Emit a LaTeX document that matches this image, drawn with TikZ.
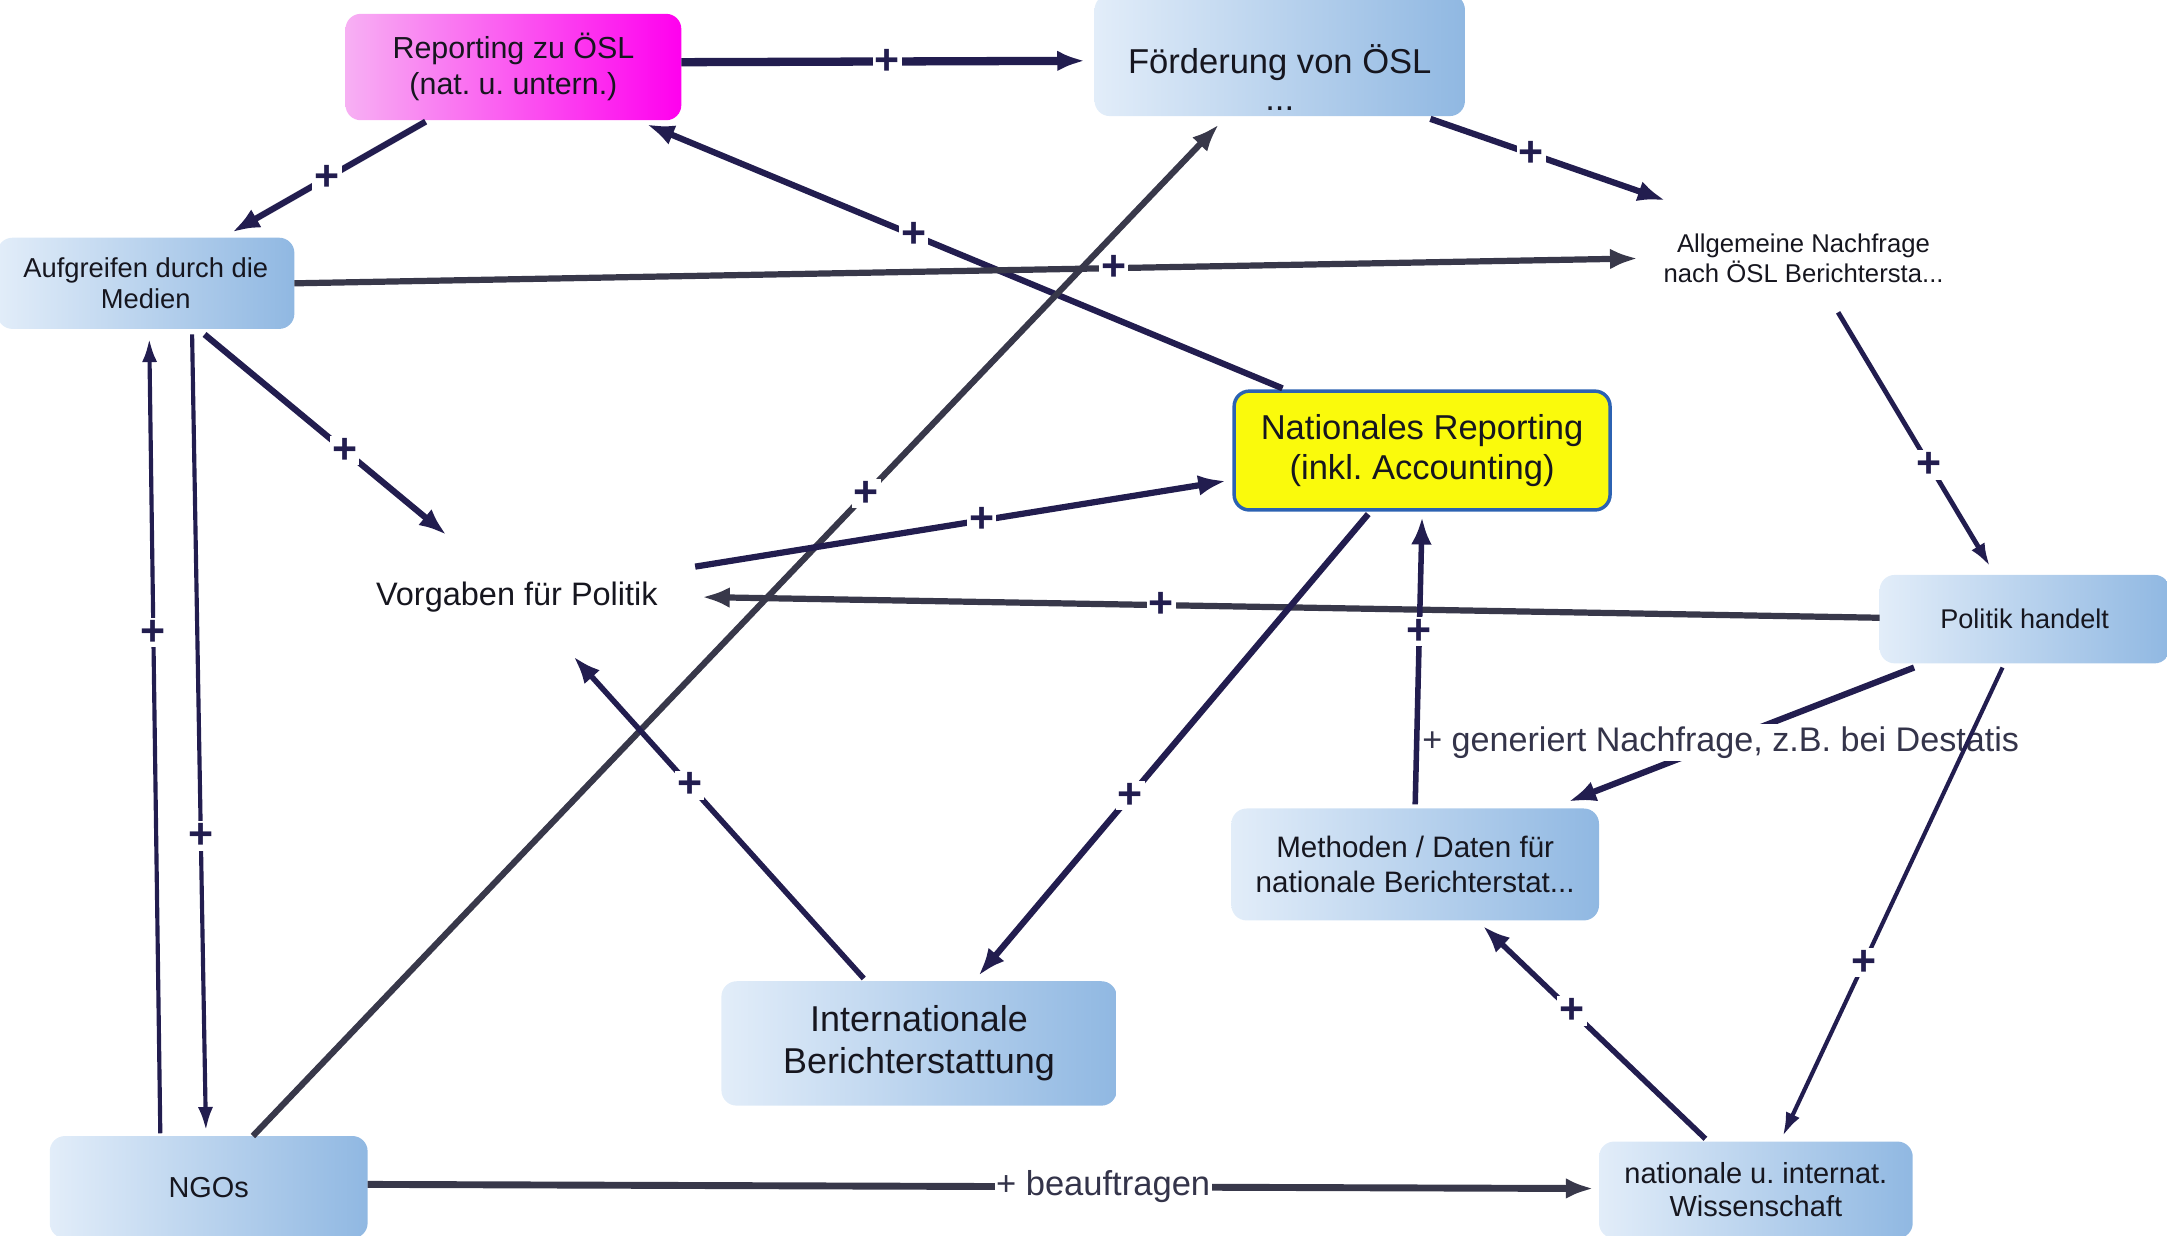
\documentclass[tikz,border=0pt]{standalone}
\usepackage{fontspec}
\setmainfont{Liberation Sans}
\usetikzlibrary{arrows.meta,calc}

\definecolor{navy}{HTML}{221D4F}
\definecolor{slate}{HTML}{38384A}
\definecolor{txt}{HTML}{16161F}
\definecolor{labeltxt}{HTML}{34344A}
\definecolor{bluelight}{HTML}{E2EDF9}
\definecolor{bluemid}{HTML}{BAD3EE}
\definecolor{bluedark}{HTML}{90B8E2}
\definecolor{pinklight}{HTML}{F7B0F3}
\definecolor{pinkmid}{HTML}{FF28F2}
\definecolor{pinkdark}{HTML}{FF00EE}
\definecolor{yellowfill}{HTML}{FAFA0C}
\definecolor{yellowborder}{HTML}{2C62B2}

\newcommand\setfs[2]{\fontsize{#1}{#2}\selectfont}
\frenchspacing

\tikzset{
  box/.style={rounded corners=11pt, align=center, text=txt, inner sep=0pt},
  bluebox/.style={box, left color=bluelight, middle color=bluemid, right color=bluedark},
  pinkbox/.style={box, left color=pinklight, middle color=pinkmid, right color=pinkdark},
  yellowbox/.style={box, fill=yellowfill, draw=yellowborder, line width=2.5pt},
  plaintext/.style={align=center, text=txt, inner sep=1pt},
  edge/.style={draw=navy, line width=4.5pt, -{Latex[length=20pt,width=15pt]}},
  thickedge/.style={edge, line width=6pt},
  thinedge/.style={draw=navy, line width=3pt, -{Latex[length=17pt,width=11pt]}},
  greyedge/.style={edge, draw=slate},
  plus/.style={fill=white, inner sep=1.5pt, text=navy, font=\setfs{31}{31}\bfseries},
  edgelabel/.style={fill=white, inner sep=2pt, text=labeltxt, font=\setfs{24.7}{28}}
}

\begin{document}
\begin{tikzpicture}[x=1pt,y=-1pt]
\useasboundingbox (0,0) rectangle (1568,894);

% boxes and free-standing texts
\node[pinkbox, minimum width=243pt, minimum height=77pt, font=\setfs{22}{26}]
  (rep) at (371.5,48.5) {Reporting zu ÖSL\\(nat. u. untern.)};
\node[bluebox, minimum width=268pt, minimum height=88pt] (foe) at (926,40) {};
\node[plaintext, font=\setfs{25}{27}] (foetext) at (926,56) {Förderung von ÖSL\\...};
\node[bluebox, minimum width=215pt, minimum height=66pt, font=\setfs{19.8}{23}]
  (med) at (105.5,205) {Aufgreifen durch die\\Medien};
\node[plaintext, font=\setfs{18.6}{22}] (allg) at (1305,187)
  {Allgemeine Nachfrage\\nach ÖSL Berichtersta...};
\node[yellowbox, minimum width=272pt, minimum height=86pt, font=\setfs{25}{29}]
  (nat) at (1029,326) {Nationales Reporting\\(inkl. Accounting)};
\node[plaintext, font=\setfs{23.5}{28}] (vor) at (374,432) {Vorgaben für Politik};
\node[bluebox, minimum width=210pt, minimum height=64pt, font=\setfs{19.6}{23}]
  (pol) at (1465,448) {Politik handelt};
\node[bluebox, minimum width=266pt, minimum height=81pt, font=\setfs{21.4}{25}]
  (met) at (1024,625.5) {Methoden / Daten für\\nationale Berichterstat...};
\node[bluebox, minimum width=286pt, minimum height=90pt, font=\setfs{26}{30}]
  (int) at (665,755) {Internationale\\Berichterstattung};
\node[bluebox, minimum width=230pt, minimum height=74pt, font=\setfs{20.9}{24}]
  (ngo) at (151,859) {NGOs};
\node[bluebox, minimum width=227pt, minimum height=70pt, font=\setfs{21}{24}]
  (wis) at (1270.5,861) {nationale u. internat.\\Wissenschaft};

% labelled connector first, so that the other lines cross over its label
\draw[edge] ($(pol)+(-80,35)$) -- node[edgelabel, pos=.56] (lgen) {+ generiert Nachfrage, z.B. bei Destatis} ($(met)+(111,-45.5)$);

% connectors
\draw[thickedge] ($(rep)+(121.5,-3.5)$) -- node[plus, pos=.51] (p1) {+} ($(foe)+(-141,4)$);
\draw[edge] ($(rep)+(-63.5,39.5)$) -- node[plus, pos=.51] (p2) {+} ($(med)+(62.5,-37)$);
\draw[edge] ($(nat)+(-101,-45)$) -- node[plus, pos=.58] (p3) {+} ($(rep)+(96.5,41.5)$);
\draw[edge] ($(foe)+(109,46)$) -- node[plus, pos=.43] (p4) {+} ($(allg)+(-100,-42)$);
\draw[greyedge] ($(med)+(107.5,0)$) -- node[plus, pos=.61] (p5) {+} ($(allg)+(-120,0)$);
\draw[greyedge] ($(ngo)+(32,-37)$) -- node[plus, pos=.635] (p6) {+} ($(foe)+(-44,50)$);
\draw[thinedge, line width=3.5pt] ($(allg)+(25,39)$) -- node[plus, pos=.6] (p7) {+} ($(pol)+(-25,-38)$);
\draw[edge] ($(med)+(42.5,37)$) -- node[plus, pos=.58] (p8) {+} ($(vor)+(-51,-45)$);
\draw[edge] ($(vor)+(129,-22)$) -- node[plus, pos=.54] (p9) {+} ($(nat)+(-142,22)$);
\draw[greyedge] ($(pol)+(-105,-1)$) -- node[plus, pos=.61] (p10) {+} ($(vor)+(134,0)$);
\draw[edge] ($(nat)+(-39,46)$) -- node[plus, pos=.61] (p11) {+} ($(int)+(43,-49)$);
\draw[edge, line width=4pt] ($(met)+(0,-43.5)$) -- node[plus, pos=.6] (p12) {+} ($(nat)+(0,48)$);
\draw[thinedge] ($(pol)+(-16,35)$) -- node[plus, pos=.63] (p13) {+} ($(wis)+(19.5,-39)$);
\draw[edge, line width=4pt] ($(wis)+(-36.5,-37)$) -- node[plus, pos=.6] (p14) {+} ($(met)+(49,44.5)$);
\draw[edge, line width=4pt] ($(int)+(-40,-47)$) -- node[plus, pos=.6] (p15) {+} ($(vor)+(41,43)$);
\draw[thinedge] ($(ngo)+(-35,-39)$) -- node[plus, pos=.63] (p16) {+} ($(med)+(2.5,40)$);
\draw[thinedge] ($(med)+(33.5,37)$) -- node[plus, pos=.63] (p17) {+} ($(ngo)+(-2,-41)$);
\draw[greyedge, line width=5pt] ($(ngo)+(115,-2)$) -- node[edgelabel, pos=.6, inner sep=1pt, font=\setfs{25}{28}] (lbeauf) {+ beauftragen} ($(wis)+(-117.5,-1)$);
\end{tikzpicture}
\end{document}
